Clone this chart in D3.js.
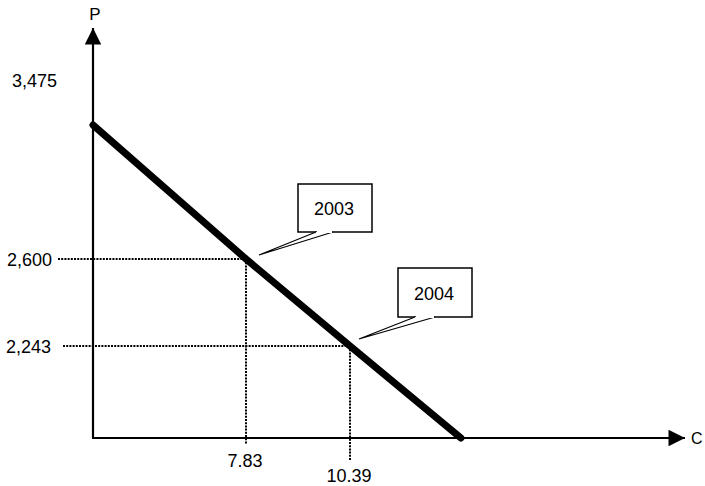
<!DOCTYPE html>
<html>
<head>
<meta charset="utf-8">
<script src="https://cdn.jsdelivr.net/npm/d3@7"></script>
<style>
  body { margin: 0; background: #fff; }
  text { font-family: "Liberation Sans", Arial, sans-serif; fill: #000; }
</style>
</head>
<body>
<svg width="705" height="486"></svg>
<script>
      // values
      const years = ["2003", "2004"];
      const quantity = [7.83, 10.39];
      const price = [2600, 2243];
      const priceTickLabels = ["3,475", "2,600", "2,243"];
      const priceTickValues = [3475, 2600, 2243];
      const qtyTickLabels = ["7.83", "10.39"];
      // demand line (schematic)
      const demandQ = [0, 7.83, 10.39, 13.12];
      const demandP = [3255, 2600, 2243, 0];

      const svg = d3.select('svg');
      const origin = { x: 93, y: 438 };

      // schematic (piecewise) scales
      const xScale = d3.scaleLinear()
        .domain([0, 7.83, 10.39])
        .range([origin.x, 246, 350]);
      const yScale = d3.scaleLinear()
        .domain([0, 2243, 2600, 3475])
        .range([origin.y, 346, 259, 80]);

      const defs = svg.append('defs');
      defs.append('marker')
          .attr('id', 'arrow')
          .attr('viewBox', '0 0 10 10')
          .attr('refX', 10).attr('refY', 5)
          .attr('markerWidth', 8).attr('markerHeight', 7.5)
          .attr('markerUnits', 'strokeWidth')
          .attr('orient', 'auto')
        .append('path')
          .attr('d', 'M0,0 L10,5 L0,10 Z')
          .attr('fill', '#000');

      // guide lines (dotted)
      const guides = svg.append('g')
          .attr('stroke', '#000')
          .attr('stroke-width', 2)
          .attr('stroke-dasharray', '2,1.2')
          .attr('fill', 'none');
      const hStart = [58, 63];
      const vEnd = [444, 460];
      quantity.forEach((q, i) => {
        guides.append('line')
          .attr('x1', hStart[i]).attr('x2', xScale(q))
          .attr('y1', yScale(price[i])).attr('y2', yScale(price[i]));
        guides.append('line')
          .attr('x1', xScale(q)).attr('x2', xScale(q))
          .attr('y1', yScale(price[i])).attr('y2', vEnd[i]);
      });

      // axes with arrows
      svg.append('line')
          .attr('x1', origin.x).attr('y1', origin.y)
          .attr('x2', origin.x).attr('y2', 28)
          .attr('stroke', '#000').attr('stroke-width', 2.2)
          .attr('marker-end', 'url(#arrow)');
      svg.append('line')
          .attr('x1', origin.x - 1).attr('y1', origin.y)
          .attr('x2', 685).attr('y2', origin.y)
          .attr('stroke', '#000').attr('stroke-width', 2.2)
          .attr('marker-end', 'url(#arrow)');

      svg.append('text').attr('x', 95).attr('y', 20)
          .attr('text-anchor', 'middle').style('font-size', '17px').text('P');
      svg.append('text').attr('x', 691).attr('y', 444)
          .style('font-size', '16px').text('C');

      // demand line
      const line = d3.line()
          .x(d => xScale(d.q))
          .y(d => yScale(d.p));
      const demand = demandQ.map((q, i) => ({ q: q, p: demandP[i] }));
      svg.append('path')
          .datum(demand)
          .attr('d', line)
          .attr('fill', 'none')
          .attr('stroke', '#000')
          .attr('stroke-width', 7)
          .attr('stroke-linecap', 'round');

      // tick labels
      const yLabelRight = [57, 52, 51];
      priceTickValues.forEach((v, i) => {
        svg.append('text')
          .attr('x', yLabelRight[i])
          .attr('y', yScale(v) + 7)
          .attr('text-anchor', 'end')
          .style('font-size', '18px')
          .text(priceTickLabels[i]);
      });
      const xLabelY = [467, 482];
      quantity.forEach((q, i) => {
        svg.append('text')
          .attr('x', xScale(q) - 1)
          .attr('y', xLabelY[i])
          .attr('text-anchor', 'middle')
          .style('font-size', '18px')
          .text(qtyTickLabels[i]);
      });

      // callouts
      const callouts = [
        { box: [52, -75, 74, 48], tip: [13, -4], base: [70, 87] },
        { box: [48, -78, 74, 49], tip: [9, -7], base: [65, 85] }
      ];
      quantity.forEach((q, i) => {
        const px = xScale(q), py = yScale(price[i]);
        const c = callouts[i];
        const bx = px + c.box[0], by = py + c.box[1];
        const g = svg.append('g');
        g.append('rect')
          .attr('x', bx).attr('y', by)
          .attr('width', c.box[2]).attr('height', c.box[3])
          .attr('fill', '#fff').attr('stroke', '#000').attr('stroke-width', 1.5);
        g.append('path')
          .attr('d', `M${px + c.base[0]},${by + c.box[3]} L${px + c.tip[0]},${py + c.tip[1]} L${px + c.base[1]},${by + c.box[3]}`)
          .attr('fill', '#fff').attr('stroke', '#000').attr('stroke-width', 1.2);
        g.append('line')
          .attr('x1', px + c.base[0] + 1).attr('x2', px + c.base[1] - 1)
          .attr('y1', by + c.box[3]).attr('y2', by + c.box[3])
          .attr('stroke', '#fff').attr('stroke-width', 2);
        g.append('text')
          .attr('x', bx + c.box[2] / 2 - 1)
          .attr('y', by + c.box[3] / 2 + 7)
          .attr('text-anchor', 'middle')
          .style('font-size', '18px')
          .text(years[i]);
      });
</script>
</body>
</html>
